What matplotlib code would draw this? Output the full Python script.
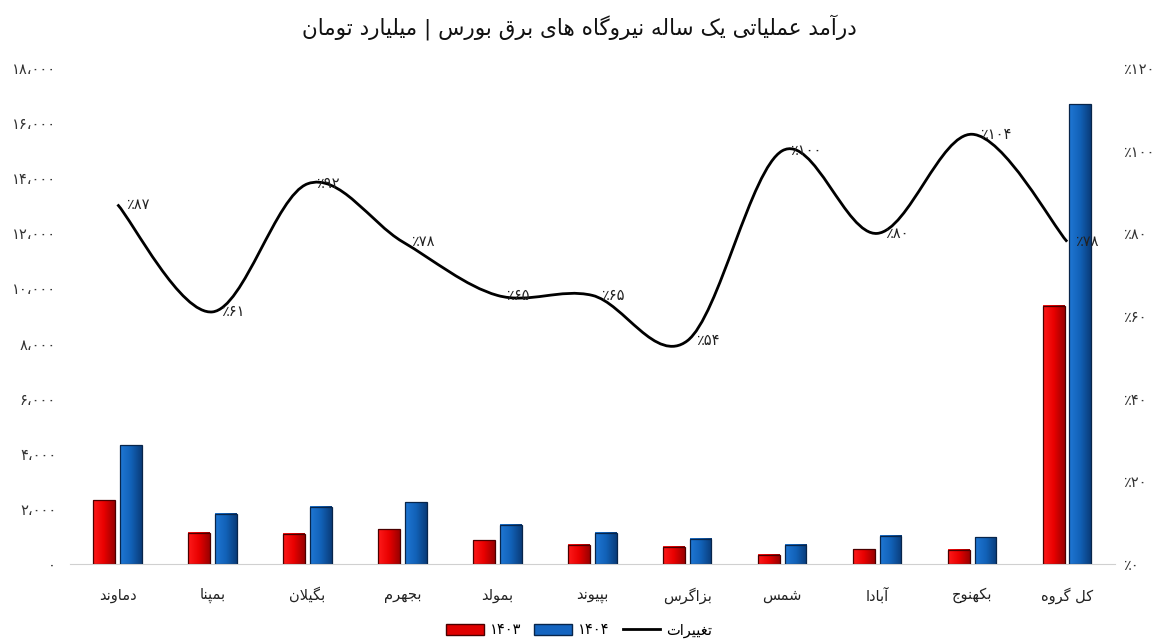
import re
import numpy as np
import matplotlib
matplotlib.use('Agg')
import matplotlib.pyplot as plt
from matplotlib.path import Path
from matplotlib.patches import PathPatch, Patch
from matplotlib.lines import Line2D
from matplotlib.colors import LinearSegmentedColormap

# data
companies = ['دماوند', 'بمپنا', 'بگیلان', 'بجهرم', 'بمولد', 'بپیوند',
             'بزاگرس', 'شمس', 'آبادا', 'بکهنوج', 'کل گروه']
rev_1403 = [2320, 1130, 1090, 1270, 870, 690, 620, 330, 540, 510, 9370]
rev_1404 = [4320, 1820, 2070, 2250, 1420, 1130, 910, 690, 1020, 980, 16700]
change_pct = [87, 61, 92, 78, 65, 65, 54, 100, 80, 104, 78]
left_ticks = list(range(0, 18001, 2000))
right_ticks = list(range(0, 121, 20))
title = 'درآمد عملیاتی یک ساله نیروگاه های برق بورس | میلیارد تومان'
legend_labels = ['۱۴۰۳', '۱۴۰۴', 'تغییرات']

plt.rcParams['font.family'] = ['DejaVu Sans']

# matplotlib has no arabic shaping, so join letters by hand
FORMS = {
    'ا': (0xFE8D, 0xFE8E, None, None),
    'آ': (0xFE81, 0xFE82, None, None),
    'ب': (0xFE8F, 0xFE90, 0xFE91, 0xFE92),
    'پ': (0xFB56, 0xFB57, 0xFB58, 0xFB59),
    'ت': (0xFE95, 0xFE96, 0xFE97, 0xFE98),
    'ج': (0xFE9D, 0xFE9E, 0xFE9F, 0xFEA0),
    'چ': (0xFB7A, 0xFB7B, 0xFB7C, 0xFB7D),
    'د': (0xFEA9, 0xFEAA, None, None),
    'ر': (0xFEAD, 0xFEAE, None, None),
    'ز': (0xFEAF, 0xFEB0, None, None),
    'س': (0xFEB1, 0xFEB2, 0xFEB3, 0xFEB4),
    'ش': (0xFEB5, 0xFEB6, 0xFEB7, 0xFEB8),
    'ع': (0xFEC9, 0xFECA, 0xFECB, 0xFECC),
    'غ': (0xFECD, 0xFECE, 0xFECF, 0xFED0),
    'ق': (0xFED5, 0xFED6, 0xFED7, 0xFED8),
    'ک': (0xFB8E, 0xFB8F, 0xFB90, 0xFB91),
    'ك': (0xFB8E, 0xFB8F, 0xFB90, 0xFB91),
    'گ': (0xFB92, 0xFB93, 0xFB94, 0xFB95),
    'ل': (0xFEDD, 0xFEDE, 0xFEDF, 0xFEE0),
    'م': (0xFEE1, 0xFEE2, 0xFEE3, 0xFEE4),
    'ن': (0xFEE5, 0xFEE6, 0xFEE7, 0xFEE8),
    'و': (0xFEED, 0xFEEE, None, None),
    'ه': (0xFEE9, 0xFEEA, 0xFEEB, 0xFEEC),
    'ی': (0xFBFC, 0xFBFD, 0xFBFE, 0xFBFF),
    'ي': (0xFBFC, 0xFBFD, 0xFBFE, 0xFBFF),
}
NUM = r'[0-9۰-۹٬٪]+'


def shape(text):
    out = []
    i = 0
    while i < len(text):
        ch = text[i]
        if ch not in FORMS:
            out.append(ch)
            i += 1
            continue
        prev = text[i - 1] if i > 0 else ''
        nxt = text[i + 1] if i + 1 < len(text) else ''
        joins_prev = prev in FORMS and FORMS[prev][2] is not None
        if ch == 'ل' and nxt in ('ا', 'آ'):
            base = 0xFEFB if nxt == 'ا' else 0xFEF5
            out.append(chr(base + (1 if joins_prev else 0)))
            i += 2
            continue
        iso, fin, ini, med = FORMS[ch]
        joins_next = ini is not None and nxt in FORMS
        if joins_prev and joins_next:
            c = med
        elif joins_prev:
            c = fin
        elif joins_next:
            c = ini
        else:
            c = iso
        out.append(chr(c))
        i += 1
    tokens = re.findall(NUM + r'|[^0-9۰-۹٬٪]+', ''.join(out))
    return ''.join(t if re.fullmatch(NUM, t) else t[::-1] for t in reversed(tokens))


def fa(s):
    return str(s).translate(str.maketrans('0123456789,', '۰۱۲۳۴۵۶۷۸۹،'))


fig = plt.figure(figsize=(11.58, 6.43), dpi=100)
ax = fig.add_axes([0.0605, 0.123, 0.902, 0.771])
ax2 = ax.twinx()

x = np.arange(len(companies))
w = 0.23
off = 0.14

red_cmap = LinearSegmentedColormap.from_list('r', ['#ff1a1a', '#e80000', '#9a0000'])
blue_cmap = LinearSegmentedColormap.from_list('b', ['#1f77d4', '#1262b8', '#0a3c7a'])
grad = np.linspace(0, 1, 64).reshape(1, -1)

bars1 = ax.bar(x - off, rev_1403, w, facecolor='none', edgecolor='#4a0000', linewidth=0.9, zorder=3)
bars2 = ax.bar(x + off, rev_1404, w, facecolor='none', edgecolor='#08254a', linewidth=0.9, zorder=3)
for bars, cmap in ((bars1, red_cmap), (bars2, blue_cmap)):
    for r in bars:
        x0, h = r.get_x(), r.get_height()
        ax.imshow(grad, extent=[x0, x0 + r.get_width(), 0, h], aspect='auto',
                  cmap=cmap, zorder=2, interpolation='bilinear')

ax.set_xlim(-0.5, len(companies) - 0.5)
ax.set_ylim(0, 18000)
ax.set_xticks(x)
ax.set_xticklabels([shape(c) for c in companies], fontsize=10.5, color='#222222')
ax.set_yticks(left_ticks)
ax.set_yticklabels([fa(f'{v:,}') for v in left_ticks], fontsize=10.5, color='#333333')
ax.tick_params(axis='x', length=0, pad=17)
ax.tick_params(axis='y', length=0, pad=10)

# smooth line for the percent change, catmull-rom through the points
pts = np.column_stack([x, change_pct]).astype(float)
verts = [pts[0]]
codes = [Path.MOVETO]
for i in range(len(pts) - 1):
    p0 = pts[i - 1] if i > 0 else pts[i]
    p3 = pts[i + 2] if i + 2 < len(pts) else pts[i + 1]
    verts += [pts[i] + (pts[i + 1] - p0) / 6, pts[i + 1] - (p3 - pts[i]) / 6, pts[i + 1]]
    codes += [Path.CURVE4] * 3
ax2.add_patch(PathPatch(Path(verts, codes), facecolor='none', edgecolor='black',
                        linewidth=2.0, zorder=4))
for xi, v in zip(x, change_pct):
    ax2.annotate('٪' + fa(v), (xi, v), xytext=(6, 0), textcoords='offset points',
                 ha='left', va='center', fontsize=10.5, color='#222222', zorder=5)

ax2.set_ylim(0, 120)
ax2.set_yticks(right_ticks)
ax2.set_yticklabels(['٪' + fa(v) for v in right_ticks], fontsize=10.5, color='#333333')
ax2.tick_params(axis='y', length=0, pad=6)

for a in (ax, ax2):
    for s in a.spines.values():
        s.set_visible(False)
ax.spines['bottom'].set_visible(True)
ax.spines['bottom'].set_color('#d0d0d0')

fig.text(0.5, 1 - 27 / 643, shape(title), ha='center', va='center', fontsize=15.5, color='#111111')

handles = [Patch(facecolor='#e00000', edgecolor='#4a0000'),
           Patch(facecolor='#1565c0', edgecolor='#08254a'),
           Line2D([0], [0], color='black', linewidth=2.0)]
fig.legend(handles, [shape(l) for l in legend_labels], loc='center', ncol=3,
           bbox_to_anchor=(0.5, 1 - 630 / 643), frameon=False, fontsize=10.5,
           handlelength=2.6, handleheight=0.8, columnspacing=0.9, handletextpad=0.4)

fig.savefig('out.png', dpi=100)
